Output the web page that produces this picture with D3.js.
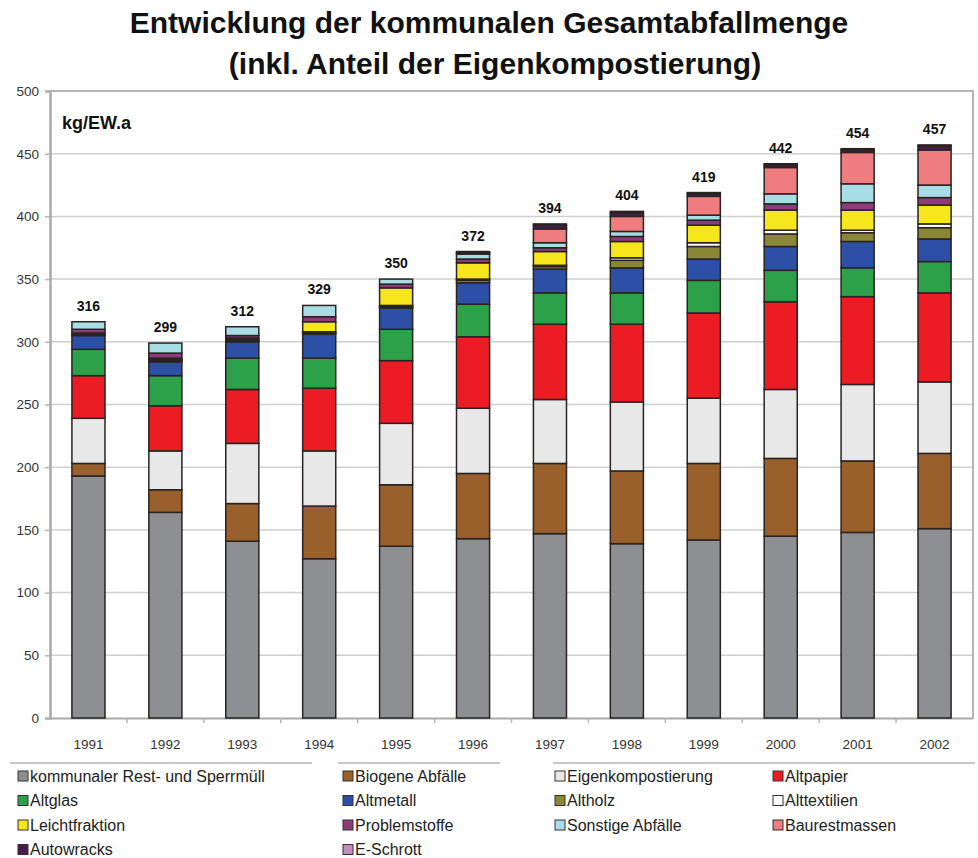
<!DOCTYPE html>
<html>
<head>
<meta charset="utf-8">
<script src="https://cdn.jsdelivr.net/npm/d3@7"></script>
<style>
  body { margin: 0; background: #fff; }
  svg { font-family: "Liberation Sans", Arial, sans-serif; }
</style>
</head>
<body>
<div id="chart"></div>
<script>
// values in kg per inhabitant and year
var years = ["1991", "1992", "1993", "1994", "1995", "1996", "1997", "1998", "1999", "2000", "2001", "2002"];
var restSperr = [193, 164, 141, 127, 137, 143, 147, 139, 142, 145, 148, 151];
var biogen = [10, 18, 30, 42, 49, 52, 56, 58, 61, 62, 57, 60];
var eigenkomp = [36, 31, 48, 44, 49, 52, 51, 55, 52, 55, 61, 57];
var altpapier = [34, 36, 43, 50, 50, 57, 60, 62, 68, 70, 70, 71];
var altglas = [21, 24, 25, 24, 25, 26, 25, 25, 26, 25, 23, 25];
var altmetall = [11, 11, 13, 19, 17, 17, 19, 20, 17, 19, 21, 18];
var altholz = [1, 1, 1, 1, 1, 2, 2, 6, 10, 10, 7, 9];
var alttextil = [1, 1, 1, 1, 1, 1, 1, 2, 3, 3, 2, 3];
var leicht = [0, 1, 1, 8, 14, 13, 11, 13, 14, 16, 16, 15];
var problem = [3, 4, 2, 4, 3, 3, 3, 4, 4, 5, 6, 6];
var sonstige = [6, 8, 7, 9, 4, 4, 4, 4, 4, 8, 15, 10];
var baurest = [0, 0, 0, 0, 0, 0, 11, 12, 15, 21, 25, 28];
var autowracks = [0, 0, 0, 0, 0, 1, 3, 3, 2, 2, 2, 3];
var eschrott = [0, 0, 0, 0, 0, 1, 1, 1, 1, 1, 1, 1];
var yTicks = [0, 50, 100, 150, 200, 250, 300, 350, 400, 450, 500];

var series = [
  { name: "kommunaler Rest- und Sperrmüll", values: restSperr, color: "#8d8f92" },
  { name: "Biogene Abfälle", values: biogen, color: "#99602b" },
  { name: "Eigenkompostierung", values: eigenkomp, color: "#e8e8e8" },
  { name: "Altpapier", values: altpapier, color: "#ec1c24" },
  { name: "Altglas", values: altglas, color: "#2da149" },
  { name: "Altmetall", values: altmetall, color: "#2e4fa6" },
  { name: "Altholz", values: altholz, color: "#8a8836" },
  { name: "Alttextilien", values: alttextil, color: "#ffffff" },
  { name: "Leichtfraktion", values: leicht, color: "#f6e61c" },
  { name: "Problemstoffe", values: problem, color: "#8e3b7c" },
  { name: "Sonstige Abfälle", values: sonstige, color: "#a9dde5" },
  { name: "Baurestmassen", values: baurest, color: "#ef7c7f" },
  { name: "Autowracks", values: autowracks, color: "#4a1a4e" },
  { name: "E-Schrott", values: eschrott, color: "#c58cc0" }
];

var width = 978;
var height = 858;
var margin = { top: 91, right: 5, bottom: 140, left: 50 };

var table = years.map(function (y, i) {
  var row = { year: y };
  series.forEach(function (s) { row[s.name] = s.values[i]; });
  return row;
});

var stack = d3.stack().keys(series.map(function (s) { return s.name; }));
var stacked = stack(table);

var svg = d3.select("#chart")
  .append("svg")
  .attr("width", width)
  .attr("height", height);

var x = d3.scaleBand()
  .domain(years)
  .range([margin.left, width - margin.right])
  .paddingInner(0.57)
  .paddingOuter(0.285);

var y = d3.scaleLinear()
  .domain([0, 500])
  .range([height - margin.bottom, margin.top]);

// title
svg.append("text")
  .attr("x", 489).attr("y", 33)
  .attr("text-anchor", "middle")
  .style("font-size", "30px").style("font-weight", "bold")
  .attr("fill", "#111")
  .text("Entwicklung der kommunalen Gesamtabfallmenge");
svg.append("text")
  .attr("x", 495).attr("y", 74)
  .attr("text-anchor", "middle")
  .style("font-size", "30px").style("font-weight", "bold")
  .attr("fill", "#111")
  .text("(inkl. Anteil der Eigenkompostierung)");

// grid
svg.append("g")
  .selectAll("line")
  .data(yTicks.slice(1, -1))
  .enter()
  .append("line")
  .attr("x1", margin.left).attr("x2", width - margin.right)
  .attr("y1", function (d) { return y(d); })
  .attr("y2", function (d) { return y(d); })
  .attr("stroke", "#cfcfcf").attr("stroke-width", 1.5);

// plot frame top and right
svg.append("path")
  .attr("d", "M" + margin.left + "," + y(500) + "H" + (width - margin.right) + "V" + y(0))
  .attr("fill", "none").attr("stroke", "#b5b5b5").attr("stroke-width", 2);

// y axis
var yAxis = svg.append("g")
  .attr("transform", "translate(" + margin.left + ",0)")
  .call(d3.axisLeft(y).tickValues(yTicks).tickSize(5).tickPadding(6));
yAxis.select(".domain").attr("stroke", "#a9a9a9").attr("stroke-width", 2.5);
yAxis.selectAll(".tick line").attr("stroke", "#b5b5b5").attr("stroke-width", 1.5);
yAxis.selectAll("text").style("font-size", "13.5px").attr("fill", "#333");

// x axis
var xAxis = svg.append("g")
  .attr("transform", "translate(0," + y(0) + ")")
  .call(d3.axisBottom(x).tickSize(0).tickPadding(21));
xAxis.select(".domain").attr("stroke", "#a9a9a9").attr("stroke-width", 2);
xAxis.selectAll("text").style("font-size", "13.5px").attr("fill", "#333");
// small ticks between categories
xAxis.selectAll(".sep")
  .data(years.slice(1))
  .enter()
  .append("line")
  .attr("class", "sep")
  .attr("x1", function (d) { return x(d) - x.step() * x.paddingInner() / 2; })
  .attr("x2", function (d) { return x(d) - x.step() * x.paddingInner() / 2; })
  .attr("y1", 0).attr("y2", 5)
  .attr("stroke", "#b5b5b5").attr("stroke-width", 1.5);

// bars
var layers = svg.append("g")
  .selectAll("g")
  .data(stacked)
  .enter()
  .append("g")
  .attr("fill", function (d, i) { return series[i].color; });

layers.selectAll("rect")
  .data(function (d) { return d.filter(function (p) { return p[1] - p[0] > 0; }); })
  .enter()
  .append("rect")
  .attr("x", function (d) { return x(d.data.year); })
  .attr("y", function (d) { return y(d[1]); })
  .attr("width", x.bandwidth())
  .attr("height", function (d) { return y(d[0]) - y(d[1]); })
  .attr("stroke", "#2a2322")
  .attr("stroke-width", 1.5);

// totals
var totals = table.map(function (row) {
  return { year: row.year, total: d3.sum(series, function (s) { return row[s.name]; }) };
});
svg.append("g")
  .selectAll("text")
  .data(totals)
  .enter()
  .append("text")
  .attr("x", function (d) { return x(d.year) + x.bandwidth() / 2; })
  .attr("y", function (d) { return y(d.total) - 11; })
  .attr("text-anchor", "middle")
  .style("font-size", "14px").style("font-weight", "bold")
  .attr("fill", "#111")
  .text(function (d) { return Math.round(d.total); });

// unit label
svg.append("text")
  .attr("x", 62).attr("y", 129)
  .style("font-size", "18px").style("font-weight", "bold")
  .attr("fill", "#111")
  .text("kg/EW.a");

// legend
var legendTop = [[10, 312], [338, 500], [553, 975]];
svg.append("g")
  .selectAll("line")
  .data(legendTop)
  .enter()
  .append("line")
  .attr("x1", function (d) { return d[0]; })
  .attr("x2", function (d) { return d[1]; })
  .attr("y1", 763).attr("y2", 763)
  .attr("stroke", "#c8c8c8").attr("stroke-width", 2);

var colX = [18, 343, 555, 773];
var legend = svg.append("g")
  .selectAll("g")
  .data(series)
  .enter()
  .append("g")
  .attr("transform", function (d, i) {
    return "translate(" + colX[i % 4] + "," + (776 + Math.floor(i / 4) * 24.5) + ")";
  });
legend.append("rect")
  .attr("x", 0).attr("y", -5)
  .attr("width", 10).attr("height", 10)
  .attr("fill", function (d) { return d.color; })
  .attr("stroke", "#333").attr("stroke-width", 1);
legend.append("text")
  .attr("x", 12).attr("y", 0)
  .attr("dy", "0.36em")
  .style("font-size", "16px")
  .attr("fill", "#222")
  .text(function (d) { return d.name; });
</script>
</body>
</html>
